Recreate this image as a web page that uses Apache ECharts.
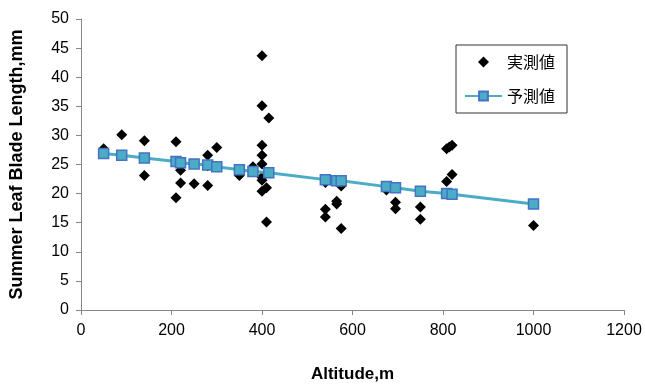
<!DOCTYPE html>
<html>
<head>
<meta charset="utf-8">
<title>Altitude vs Summer Leaf Blade Length</title>
<script src="https://cdn.jsdelivr.net/npm/echarts@6/dist/echarts.min.js"></script>
<style>
  html, body { margin: 0; padding: 0; background: #fff; }
  #chart { width: 645px; height: 389px; }
</style>
</head>
<body>
<div id="chart"></div>
<script>
// 実測値 (observed) - altitude, length
var obsAltitude = [50, 90, 140, 140, 210, 210, 220, 220, 250, 280, 280, 280, 300, 350, 350, 380,
  400, 400, 400, 400, 400, 400, 400, 400, 410, 410, 415,
  540, 540, 540, 565, 565, 575, 575, 675, 695, 695, 750, 750,
  808, 808, 814, 820, 820, 1000]
var obsLength = [27.7, 30.1, 29.1, 23.1, 28.9, 19.3, 24.0, 21.8, 21.7, 26.6, 24.8, 21.4, 27.9, 24.1, 23.1, 24.6,
  43.7, 35.1, 28.3, 26.6, 25.1, 22.8, 22.3, 20.4, 21.0, 15.1, 33.0,
  21.9, 17.3, 16.0, 18.7, 18.2, 21.3, 14.0, 20.6, 18.5, 17.4, 17.7, 15.6,
  27.7, 22.1, 28.0, 28.3, 23.3, 14.5]

// 予測値 (predicted)
var predAltitude = [50, 90, 140, 210, 220, 250, 280, 300, 350, 380, 415, 540, 565, 575, 675, 695, 750, 808, 820, 1000]
var predLength = [26.9, 26.6, 26.1, 25.5, 25.3, 25.1, 24.9, 24.6, 24.1, 23.8, 23.6, 22.4, 22.2, 22.2, 21.2, 21.0, 20.4, 20.0, 19.9, 18.2]

var xTicks = [0, 200, 400, 600, 800, 1000, 1200]
var yTicks = [0, 5, 10, 15, 20, 25, 30, 35, 40, 45, 50]

function pairs (xs, ys) {
  var out = []
  for (var i = 0; i < xs.length; i++) {
    out.push([xs[i], ys[i]])
  }
  return out
}

var myChart = echarts.init(document.getElementById('chart'), null, {renderer: 'canvas'})

var axisGray = '#868686'
var fontEn = '"Liberation Sans", Arial, sans-serif'
var diamondIcon = 'path://M5,0L10,5L5,10L0,5Z'   // 凡例用 - 縦横比を保つ菱形

var option = {
  backgroundColor: '#fff',
  animation: false,
  grid: {left: 81, right: 21, top: 19, bottom: 79},
  legend: {
    orient: 'vertical',
    left: 456,
    top: 45,
    padding: [9, 12, 9, 8],
    itemGap: 18,
    itemWidth: 37,
    itemHeight: 11,
    symbolKeepAspect: true,
    borderColor: '#333',
    borderWidth: 1,
    textStyle: {color: '#000', fontSize: 16, fontFamily: '"Noto Sans CJK JP", sans-serif'},
    data: [
      {name: '実測値', icon: diamondIcon},
      {name: '予測値'}
    ]
  },
  xAxis: {
    type: 'value',
    min: xTicks[0],
    max: xTicks[xTicks.length - 1],
    interval: 200,
    name: 'Altitude,m',
    nameLocation: 'middle',
    nameGap: 56,
    nameTextStyle: {color: '#000', fontSize: 17, fontWeight: 'bold', fontFamily: fontEn},
    axisLine: {show: true, lineStyle: {color: axisGray, width: 1}},
    axisTick: {show: true, inside: false, length: 5, lineStyle: {color: axisGray}},
    axisLabel: {color: '#000', fontSize: 16, margin: 13, fontFamily: fontEn, formatter: function (v) { return String(v) }},
    splitLine: {show: false}
  },
  yAxis: {
    type: 'value',
    min: yTicks[0],
    max: yTicks[yTicks.length - 1],
    interval: 5,
    name: 'Summer Leaf Blade Length,mm',
    nameLocation: 'middle',
    nameGap: 55,
    nameTextStyle: {color: '#000', fontSize: 18, fontWeight: 'bold', fontFamily: fontEn},
    axisLine: {show: true, lineStyle: {color: axisGray, width: 1}},
    axisTick: {show: true, inside: false, length: 5, lineStyle: {color: axisGray}},
    axisLabel: {color: '#000', fontSize: 16, margin: 12, fontFamily: fontEn},
    splitLine: {show: false}
  },
  series: [
    {
      name: '実測値',
      type: 'scatter',
      symbol: 'diamond',
      symbolSize: 11,
      itemStyle: {color: '#000', opacity: 1},
      data: pairs(obsAltitude, obsLength),
      z: 2
    },
    {
      name: '予測値',
      type: 'line',
      symbol: 'rect',
      symbolSize: 10,
      showAllSymbol: true,
      lineStyle: {color: '#4bacc6', width: 3},
      itemStyle: {color: '#4bacc6', borderColor: '#4472c4', borderWidth: 1.5},
      data: pairs(predAltitude, predLength),
      z: 3
    }
  ]
}

myChart.setOption(option)
</script>
</body>
</html>
